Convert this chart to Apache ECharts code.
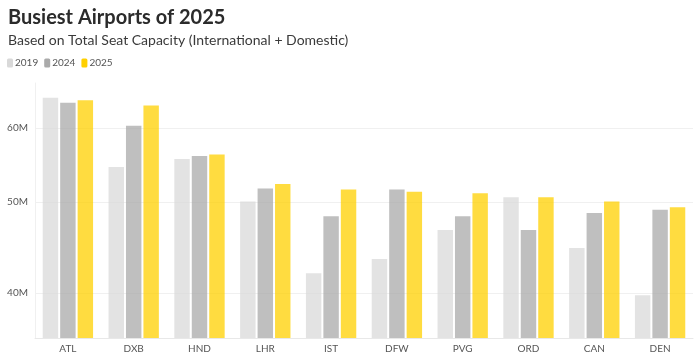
<!DOCTYPE html>
<html>
<head>
<meta charset="utf-8">
<script src="https://cdn.jsdelivr.net/npm/echarts@6/dist/echarts.min.js"></script>
<style>
html,body{margin:0;padding:0;background:#fff;}
#chart{width:700px;height:361px;}
</style>
</head>
<body>
<div id="chart"></div>
<script>
// Data (millions of seats)
const categories = ['ATL','DXB','HND','LHR','IST','DFW','PVG','ORD','CAN','DEN'];
const seriesNames = ['2019','2024','2025'];
const values2019 = [64.6, 54.5, 55.6, 50.1, 42.0, 43.5, 46.7, 50.6, 44.7, 39.8];
const values2024 = [63.8, 60.3, 56.0, 51.7, 48.3, 51.6, 48.3, 46.7, 48.7, 49.1];
const values2025 = [64.2, 63.4, 56.2, 52.3, 51.6, 51.3, 51.1, 50.6, 50.1, 49.4];
const yTicks = [40, 50, 60];

const colors = ['#d9d9d9', '#aaaaaa', '#ffd000'];
const FONT = 'Lato';

const chart = echarts.init(document.getElementById('chart'), null, {renderer: 'canvas'});
const dataSets = [values2019, values2024, values2025];

chart.setOption({
  animation: false,
  backgroundColor: '#ffffff',
  title: {
    text: 'Busiest Airports of 2025',
    subtext: 'Based on Total Seat Capacity (International + Domestic)',
    left: 3, top: 3,
    itemGap: 5,
    textStyle: {fontFamily: FONT, fontWeight: 'bold', fontSize: 20, color: '#2b2b2b'},
    subtextStyle: {fontFamily: FONT, fontSize: 14, color: '#3a3a3a'}
  },
  legend: {
    left: 2, top: 53,
    icon: 'roundRect',
    itemWidth: 6, itemHeight: 9, itemGap: 6,
    textStyle: {fontFamily: FONT, fontSize: 10, color: '#555', padding: [0,0,0,-3]},
    itemStyle: {opacity: 1},
    data: seriesNames
  },
  grid: {left: 35, right: 7, top: 83, bottom: 23, containLabel: false},
  xAxis: {
    type: 'category',
    data: categories,
    axisLine: {show: true, lineStyle: {color: '#e8e8e8'}},
    axisTick: {show: false},
    axisLabel: {fontFamily: FONT, fontSize: 10, color: '#555', margin: 6}
  },
  yAxis: {
    type: 'log',
    logBase: 10,
    min: 35.84,
    max: 66.98,
    axisLine: {show: true, lineStyle: {color: '#f0f0f0'}},
    axisTick: {show: false, customValues: yTicks},
    axisLabel: {customValues: yTicks, fontFamily: FONT, fontSize: 10, color: '#555', margin: 7,
      formatter: v => Math.round(v) + 'M'},
    splitLine: {show: true, lineStyle: {color: '#f0f0f0'}}
  },
  series: seriesNames.map((name, i) => ({
    name: name,
    type: 'bar',
    data: dataSets[i],
    clip: true,
    barGap: '13%',
    barCategoryGap: '23.5%',
    itemStyle: {color: colors[i], opacity: 0.75}
  }))
});
</script>
</body>
</html>
